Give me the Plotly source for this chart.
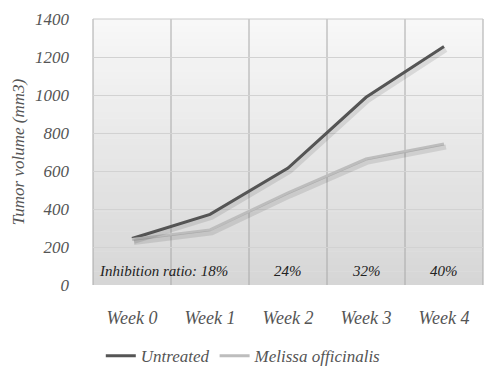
import plotly.graph_objects as go

weeks = ["Week 0", "Week 1", "Week 2", "Week 3", "Week 4"]
untreated = [245, 372, 615, 988, 1255]
melissa = [240, 290, 485, 663, 742]
ratio_labels = ["18%", "24%", "32%", "40%"]
ratio_weeks = ["Week 1", "Week 2", "Week 3", "Week 4"]
y_ticks = [0, 200, 400, 600, 800, 1000, 1200, 1400]

FONT = "Liberation Sans Narrow"
W, H = 490, 376
L, R, T, B = 93, 7, 19, 91
pw = W - L - R
ph = H - T - B
sx = 2 * 5 / pw       # shadow offset in category units
sy = 3 * 1400 / ph    # shadow offset in value units

fig = go.Figure()

# shadow traces on offset axes
for vals in (untreated, melissa):
    fig.add_trace(go.Scatter(x=weeks, y=vals, mode="lines", xaxis="x2", yaxis="y2",
                             line=dict(color="rgba(0,0,0,0.10)", width=5),
                             showlegend=False, hoverinfo="skip"))

fig.add_trace(go.Scatter(x=weeks, y=untreated, mode="lines", name="Untreated",
                         line=dict(color="#555555", width=3)))
fig.add_trace(go.Scatter(x=weeks, y=melissa, mode="lines", name="Melissa officinalis",
                         line=dict(color="#bdbdbd", width=3)))

# gradient background bands
shapes = []
n = 40
for i in range(n):
    t = i / n
    c = int(round(0xd6 + (0xf8 - 0xd6) * (t + 0.5 / n)))
    shapes.append(dict(type="rect", xref="x domain", yref="y domain",
                       x0=0, x1=1, y0=t, y1=min(1, t + 1 / n + 0.002),
                       fillcolor=f"rgb({c},{c},{c})", line=dict(width=0), layer="below"))
# vertical separators between categories
for k in range(len(weeks) + 1):
    shapes.append(dict(type="line", xref="x domain", yref="y domain",
                       x0=k / len(weeks), x1=k / len(weeks), y0=0, y1=1,
                       line=dict(color="#a8a8a8", width=1), layer="below"))
shapes.append(dict(type="line", xref="x domain", yref="y domain", x0=0, x1=1, y0=1, y1=1,
                   line=dict(color="#c8c8c8", width=1), layer="below"))

annotations = []
for wk, lab in zip(ratio_weeks, ratio_labels):
    txt = lab if wk != "Week 1" else "Inhibition ratio: " + lab
    annotations.append(dict(x=wk, y=0, yref="y", xref="x", text=txt, showarrow=False,
                            xanchor="right" if wk == "Week 1" else "center",
                            xshift=20 if wk == "Week 1" else 0,
                            yanchor="bottom", yshift=4,
                            font=dict(family=FONT, size=15, color="#222222", style="italic")))

fig.update_layout(
    width=W, height=H,
    margin=dict(l=L, r=R, t=T, b=B, autoexpand=False),
    paper_bgcolor="white",
    plot_bgcolor="rgba(0,0,0,0)",
    font=dict(family=FONT, color="#555555", style="italic"),
    shapes=shapes,
    annotations=annotations,
    xaxis=dict(domain=[0, 1], showgrid=False, zeroline=False, showline=False,
               automargin=False,
               tickfont=dict(size=18, family=FONT, style="italic", color="#555555"),
               ticks="", ticklabelstandoff=20, range=[-0.5, 4.5]),
    yaxis=dict(domain=[0, 1], range=[0, 1400], tickvals=y_ticks, showgrid=True,
               automargin=False,
               gridcolor="#d2d2d2", gridwidth=1, zeroline=False, showline=False,
               tickfont=dict(size=17, family=FONT, style="italic", color="#555555"),
               ticklabelstandoff=23,
               title=dict(text="Tumor volume (mm3)", standoff=6,
                          font=dict(size=17, family=FONT, style="italic", color="#555555"))),
    xaxis2=dict(domain=[0, 1], overlaying="x", visible=False,
                range=[-0.5 - sx, 4.5 - sx], anchor="y2"),
    yaxis2=dict(domain=[0, 1], overlaying="y", visible=False,
                range=[sy, 1400 + sy], anchor="x2"),
    legend=dict(orientation="h", x=0.02, xanchor="left", y=-0.2,
                yanchor="top", font=dict(size=17, family=FONT, style="italic", color="#555555"),
                itemwidth=30, tracegroupgap=0),
)

fig.write_html("out.html", config={"displayModeBar": False},
               post_script="document.body.style.margin='0';")
